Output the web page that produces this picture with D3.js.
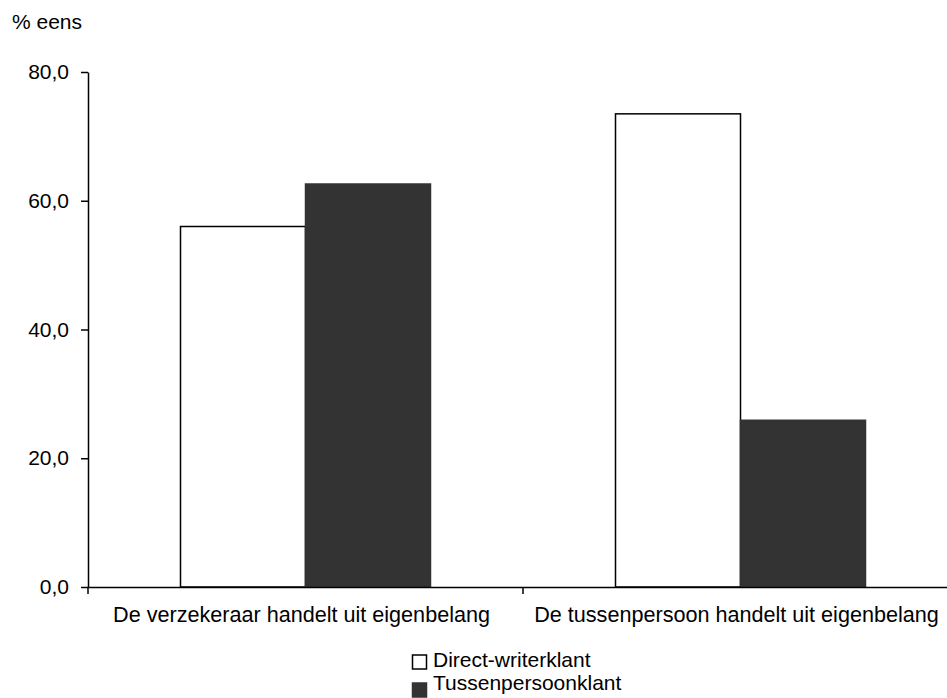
<!DOCTYPE html>
<html>
<head>
<meta charset="utf-8">
<script src="https://cdn.jsdelivr.net/npm/d3@7"></script>
<style>
  html, body { margin: 0; padding: 0; background: #fff; }
  svg { display: block; }
  text { font-family: "Liberation Sans", Arial, sans-serif; fill: #000; }
</style>
</head>
<body>
<svg id="chart" width="947" height="698"></svg>
<script>
// ---- data ----
const categories = ["De verzekeraar handelt uit eigenbelang", "De tussenpersoon handelt uit eigenbelang"];
const seriesNames = ["Direct-writerklant", "Tussenpersoonklant"];
const directWriter = [56.0, 73.5];
const tussenpersoon = [62.6, 25.9];
const yTicks = [0, 20, 40, 60, 80];
const yLabel = "% eens";

// ---- setup ----
const svg = d3.select("#chart");
const fontSize = 21;
const colors = { "Direct-writerklant": "#ffffff", "Tussenpersoonklant": "#333333" };
const strokes = { "Direct-writerklant": "#000000", "Tussenpersoonklant": "#333333" };

const y = d3.scaleLinear().domain([0, 80]).range([587, 72]);
const x0 = d3.scaleBand().domain(categories).range([88, 958]).paddingInner(0).paddingOuter(0);
const x1 = d3.scaleBand().domain(seriesNames).range([0, x0.bandwidth()]).paddingInner(0).paddingOuter(0.74);

const nl = d3.formatLocale({ decimal: ",", thousands: ".", grouping: [3], currency: ["€", ""] });
const fmt = nl.format(".1f");

const rows = categories.map((c, i) => ({
  category: c,
  values: [
    { key: seriesNames[0], value: directWriter[i] },
    { key: seriesNames[1], value: tussenpersoon[i] }
  ]
}));

// bars
const g = svg.append("g");
g.selectAll("g.grp").data(rows).join("g")
  .attr("class", "grp")
  .attr("transform", d => `translate(${x0(d.category)},0)`)
  .selectAll("rect").data(d => d.values).join("rect")
  .attr("x", d => x1(d.key))
  .attr("y", d => y(d.value))
  .attr("width", x1.bandwidth())
  .attr("height", d => y(0) - y(d.value))
  .attr("fill", d => colors[d.key])
  .attr("stroke", d => strokes[d.key])
  .attr("stroke-width", 1.5);

// y axis
const yAxis = d3.axisLeft(y).tickValues(yTicks).tickFormat(fmt).tickSize(7).tickSizeOuter(0).tickPadding(12);
const yg = svg.append("g").attr("transform", "translate(88,0)").call(yAxis);
yg.select(".domain").attr("stroke", "#000").attr("stroke-width", 1.5);
yg.selectAll(".tick line").attr("stroke", "#000").attr("stroke-width", 1.5);
yg.selectAll(".tick text").style("font-size", fontSize + "px").style("font-family", "Liberation Sans, Arial, sans-serif").attr("fill", "#000");

// x axis
const xAxis = d3.axisBottom(x0).tickSize(0).tickSizeOuter(0).tickPadding(20);
const xg = svg.append("g").attr("transform", `translate(0,${y(0)})`).call(xAxis);
xg.select(".domain").attr("stroke", "#000").attr("stroke-width", 1.5);
xg.selectAll(".tick text")
  .style("font-size", "21.6px")
  .style("font-family", "Liberation Sans, Arial, sans-serif")
  .attr("fill", "#000")
  .attr("dx", -4);
// category boundary ticks
const edges = categories.map(c => x0(c)).concat([x0.range()[1]]);
xg.selectAll("line.edge").data(edges).join("line")
  .attr("class", "edge")
  .attr("x1", d => d).attr("x2", d => d)
  .attr("y1", 0).attr("y2", 7)
  .attr("stroke", "#000").attr("stroke-width", 1.5);

// y label
svg.append("text").attr("x", 12).attr("y", 29).style("font-size", fontSize + "px").text(yLabel);

// legend
const legendY = [655, 683];
const textY = [667, 690];
const lg = svg.append("g");
seriesNames.forEach((s, i) => {
  lg.append("rect")
    .attr("x", 412.5).attr("y", legendY[i])
    .attr("width", 14).attr("height", 14)
    .attr("fill", colors[s]).attr("stroke", strokes[s]).attr("stroke-width", 1.5);
  lg.append("text").attr("x", 433).attr("y", textY[i]).style("font-size", fontSize + "px").text(s);
});
</script>
</body>
</html>
